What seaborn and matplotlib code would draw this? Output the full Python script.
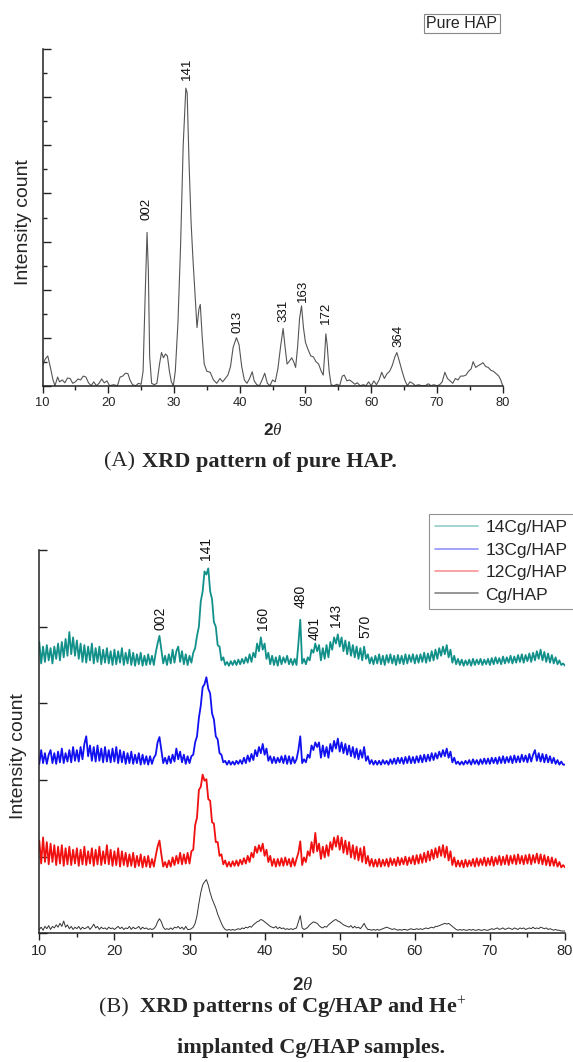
import numpy as np
import pandas as pd
import matplotlib
matplotlib.use("Agg")
import matplotlib.pyplot as plt
from matplotlib.lines import Line2D
from matplotlib.ticker import MultipleLocator
import seaborn as sns

# ---------------- data: panel A (pure HAP) ----------------
hap_2theta = [10.0, 10.4, 10.8, 11.2, 11.6, 11.9, 12.3, 12.6, 13.0, 13.4, 13.8, 14.2, 14.6, 15.0, 15.4,
              15.8, 16.2, 16.6, 17.0, 17.4, 17.8, 18.2, 18.6, 19.0, 19.4, 19.8, 20.2, 20.8, 21.4, 21.8,
              22.2, 22.6, 23.0, 23.3, 23.7, 24.2, 24.6, 25.0, 25.3, 25.6, 25.9, 26.1, 26.3, 26.6, 27.0,
              27.4, 27.8, 28.1, 28.4, 28.7, 29.0, 29.3, 29.6, 29.9, 30.2, 30.6, 31.0, 31.4, 31.8, 32.0,
              32.3, 32.6, 32.9, 33.2, 33.5, 33.8, 34.0, 34.3, 34.6, 35.0, 35.5, 36.0, 36.5, 37.0, 37.4,
              37.8, 38.2, 38.6, 39.0, 39.5, 39.9, 40.3, 40.7, 41.1, 41.5, 41.9, 42.2, 42.6, 43.0, 43.4,
              43.8, 44.2, 44.6, 45.0, 45.4, 45.8, 46.2, 46.6, 46.9, 47.2, 47.5, 47.9, 48.2, 48.5, 48.8,
              49.1, 49.4, 49.7, 50.0, 50.4, 50.8, 51.2, 51.6, 52.0, 52.4, 52.7, 52.9, 53.1, 53.3, 53.6,
              53.9, 54.3, 54.8, 55.2, 55.6, 55.9, 56.3, 56.7, 57.1, 57.5, 57.9, 58.3, 58.8, 59.2, 59.6,
              60.0, 60.4, 60.8, 61.2, 61.6, 62.0, 62.4, 62.8, 63.2, 63.6, 63.9, 64.3, 64.7, 65.1, 65.5,
              65.9, 66.3, 66.7, 67.2, 67.7, 68.2, 68.7, 69.1, 69.5, 70.0, 70.4, 70.8, 71.2, 71.6, 72.0,
              72.4, 72.8, 73.2, 73.6, 74.0, 74.4, 74.8, 75.2, 75.5, 75.9, 76.3, 76.7, 77.0, 77.4, 77.8,
              78.2, 78.6, 79.0, 79.4, 79.7, 80.0]
hap_intensity = [0.42, 0.55, 0.62, 0.38, 0.12, 0.0, 0.18, 0.08, 0.12, 0.06, 0.16, 0.15, 0.05, 0.08, 0.14,
                 0.12, 0.2, 0.18, 0.06, 0.0, 0.08, 0.0, 0.05, 0.14, 0.06, 0.1, 0.0, 0.02, 0.0, 0.18,
                 0.2, 0.26, 0.25, 0.12, 0.02, 0.0, 0.05, 0.03, 0.3, 1.8, 3.19, 2.4, 0.6, 0.05, 0.02,
                 0.05, 0.45, 0.69, 0.58, 0.66, 0.62, 0.3, 0.08, 0.0, 0.3, 1.3, 2.9, 5.0, 6.19, 6.1,
                 4.6, 3.4, 2.6, 1.9, 1.21, 1.6, 1.69, 1.0, 0.45, 0.3, 0.28, 0.12, 0.05, 0.15, 0.08,
                 0.15, 0.22, 0.4, 0.8, 1.0, 0.85, 0.4, 0.12, 0.05, 0.15, 0.29, 0.1, 0.02, 0.0, 0.12,
                 0.26, 0.05, 0.0, 0.12, 0.08, 0.35, 0.8, 1.19, 0.8, 0.45, 0.5, 0.58, 0.5, 0.38, 0.8,
                 1.4, 1.66, 1.2, 0.9, 0.75, 0.62, 0.6, 0.5, 0.45, 0.3, 0.22, 0.6, 1.08, 0.85, 0.3,
                 0.02, 0.0, 0.03, 0.0, 0.2, 0.22, 0.1, 0.12, 0.08, 0.03, 0.06, 0.0, 0.02, 0.0, 0.08,
                 0.0, 0.1, 0.02, 0.12, 0.28, 0.15, 0.25, 0.3, 0.42, 0.6, 0.69, 0.5, 0.3, 0.12, 0.0,
                 0.08, 0.05, 0.0, 0.02, 0.0, 0.0, 0.04, 0.0, 0.02, 0.0, 0.02, 0.08, 0.28, 0.15, 0.1,
                 0.05, 0.15, 0.12, 0.2, 0.2, 0.22, 0.3, 0.35, 0.5, 0.38, 0.42, 0.45, 0.48, 0.4, 0.38,
                 0.32, 0.3, 0.25, 0.2, 0.12, 0.0]
hap_peaks = ["141", "002", "013", "331", "163", "172", "364"]
hap_peak_pos = [32.0, 25.8, 39.6, 46.7, 49.6, 53.1, 64.1]
hap_label_height = [6.36, 3.45, 1.1, 1.32, 1.74, 1.28, 0.81]

# ---------------- data: panel B (Cg/HAP and implanted) ----------------
b_2theta = np.linspace(10, 80, 281)   # 0.25 deg sampling grid
teal_14cg = [
    0.32, 0.04, 0.26, 0.06, 0.28, 0.08, 0.24, 0.04, 0.26, 0.1, 0.3, 0.08, 0.32, 0.12, 0.36, 0.14, 0.45, 0.16, 0.38, 0.14,
    0.34, 0.1, 0.3, 0.06, 0.28, 0.05, 0.26, 0.08, 0.3, 0.04, 0.24, 0.06, 0.26, 0.03, 0.22, 0.05, 0.24, 0.04, 0.2, 0.02,
    0.22, 0.03, 0.2, 0.05, 0.24, 0.02, 0.18, 0.04, 0.22, 0.02, 0.18, 0.01, 0.16, 0.03, 0.18, 0.01, 0.14, 0.02, 0.16, 0.03,
    0.14, 0.02, 0.18, 0.3, 0.4, 0.22, 0.04, 0.14, 0.02, 0.16, 0.04, 0.22, 0.05, 0.2, 0.26, 0.06, 0.2, 0.03, 0.16, 0.02,
    0.14, 0.05, 0.18, 0.24, 0.4, 0.52, 0.85, 0.98, 1.24, 1.2, 1.28, 0.98, 0.88, 0.58, 0.52, 0.28, 0.26, 0.08, 0.12, 0.02,
    0.06, 0.01, 0.07, 0.02, 0.08, 0.02, 0.09, 0.03, 0.1, 0.04, 0.12, 0.05, 0.16, 0.06, 0.18, 0.12, 0.3, 0.2, 0.38, 0.22,
    0.3, 0.1, 0.18, 0.03, 0.14, 0.02, 0.12, 0.01, 0.14, 0.03, 0.12, 0.05, 0.14, 0.03, 0.1, 0.02, 0.1, 0.02, 0.3, 0.61,
    0.04, 0.1, 0.03, 0.12, 0.08, 0.22, 0.18, 0.3, 0.2, 0.28, 0.08, 0.24, 0.1, 0.28, 0.12, 0.32, 0.22, 0.38, 0.3, 0.42,
    0.26, 0.38, 0.2, 0.34, 0.16, 0.32, 0.14, 0.28, 0.12, 0.26, 0.1, 0.24, 0.08, 0.26, 0.1, 0.16, 0.04, 0.12, 0.03, 0.14,
    0.04, 0.16, 0.03, 0.14, 0.02, 0.15, 0.05, 0.16, 0.04, 0.14, 0.02, 0.15, 0.04, 0.14, 0.03, 0.16, 0.04, 0.15, 0.06, 0.16,
    0.04, 0.15, 0.05, 0.16, 0.06, 0.18, 0.05, 0.17, 0.07, 0.2, 0.08, 0.22, 0.1, 0.24, 0.14, 0.26, 0.16, 0.28, 0.12, 0.22,
    0.05, 0.14, 0.03, 0.1, 0.02, 0.09, 0.01, 0.08, 0.02, 0.09, 0.01, 0.1, 0.02, 0.09, 0.03, 0.1, 0.02, 0.09, 0.03, 0.1,
    0.02, 0.11, 0.03, 0.12, 0.04, 0.11, 0.03, 0.13, 0.04, 0.12, 0.05, 0.14, 0.04, 0.13, 0.05, 0.15, 0.06, 0.16, 0.05, 0.15,
    0.07, 0.17, 0.06, 0.18, 0.08, 0.2, 0.1, 0.22, 0.08, 0.19, 0.06, 0.17, 0.05, 0.15, 0.04, 0.12, 0.03, 0.08, 0.02, 0.04,
    0.01]
blue_13cg = [
    0.02, 0.2, 0.03, 0.16, 0.02, 0.14, 0.2, 0.03, 0.16, 0.02, 0.18, 0.04, 0.22, 0.03, 0.16, 0.05, 0.2, 0.04, 0.24, 0.06,
    0.2, 0.05, 0.24, 0.08, 0.28, 0.38, 0.12, 0.26, 0.06, 0.24, 0.05, 0.26, 0.06, 0.22, 0.04, 0.24, 0.05, 0.2, 0.04, 0.22,
    0.05, 0.24, 0.03, 0.2, 0.04, 0.18, 0.02, 0.16, 0.03, 0.18, 0.02, 0.14, 0.03, 0.16, 0.01, 0.14, 0.02, 0.12, 0.01, 0.12,
    0.02, 0.1, 0.14, 0.3, 0.37, 0.2, 0.03, 0.1, 0.02, 0.12, 0.03, 0.14, 0.05, 0.22, 0.08, 0.18, 0.04, 0.14, 0.02, 0.12,
    0.03, 0.12, 0.14, 0.3, 0.38, 0.62, 0.78, 1.02, 1.06, 1.15, 1.0, 0.94, 0.68, 0.6, 0.38, 0.34, 0.16, 0.14, 0.04, 0.06,
    0.01, 0.06, 0.01, 0.05, 0.01, 0.06, 0.02, 0.07, 0.02, 0.1, 0.03, 0.13, 0.05, 0.15, 0.07, 0.2, 0.12, 0.24, 0.16, 0.28,
    0.14, 0.22, 0.06, 0.12, 0.03, 0.11, 0.03, 0.1, 0.04, 0.12, 0.03, 0.13, 0.02, 0.12, 0.02, 0.11, 0.03, 0.08, 0.2, 0.38,
    0.03, 0.08, 0.04, 0.14, 0.1, 0.26, 0.2, 0.3, 0.24, 0.3, 0.1, 0.26, 0.12, 0.24, 0.1, 0.28, 0.18, 0.32, 0.22, 0.35,
    0.18, 0.3, 0.16, 0.28, 0.14, 0.26, 0.12, 0.24, 0.1, 0.22, 0.08, 0.2, 0.1, 0.24, 0.06, 0.12, 0.02, 0.07, 0.01, 0.06,
    0.01, 0.06, 0.01, 0.07, 0.02, 0.06, 0.01, 0.08, 0.02, 0.09, 0.02, 0.1, 0.03, 0.1, 0.02, 0.11, 0.03, 0.12, 0.03, 0.11,
    0.03, 0.12, 0.04, 0.13, 0.04, 0.14, 0.05, 0.14, 0.06, 0.16, 0.07, 0.16, 0.09, 0.18, 0.11, 0.2, 0.12, 0.22, 0.1, 0.18,
    0.04, 0.1, 0.02, 0.05, 0.01, 0.05, 0.01, 0.06, 0.02, 0.07, 0.01, 0.08, 0.02, 0.07, 0.01, 0.08, 0.02, 0.09, 0.02, 0.09,
    0.02, 0.1, 0.03, 0.1, 0.02, 0.11, 0.03, 0.12, 0.03, 0.11, 0.04, 0.12, 0.03, 0.13, 0.04, 0.12, 0.04, 0.14, 0.05, 0.13,
    0.04, 0.15, 0.05, 0.14, 0.2, 0.06, 0.16, 0.05, 0.15, 0.04, 0.14, 0.04, 0.12, 0.03, 0.1, 0.02, 0.07, 0.01, 0.05, 0.01,
    0.01]
red_12cg = [
    0.36, 0.06, 0.4, 0.08, 0.34, 0.05, 0.32, 0.08, 0.3, 0.04, 0.28, 0.06, 0.3, 0.03, 0.26, 0.05, 0.28, 0.04, 0.24, 0.06,
    0.26, 0.03, 0.24, 0.05, 0.28, 0.04, 0.22, 0.06, 0.26, 0.03, 0.24, 0.05, 0.28, 0.04, 0.22, 0.06, 0.3, 0.05, 0.24, 0.03,
    0.22, 0.04, 0.26, 0.02, 0.22, 0.04, 0.2, 0.02, 0.18, 0.03, 0.2, 0.01, 0.16, 0.03, 0.18, 0.01, 0.15, 0.02, 0.16, 0.01,
    0.12, 0.02, 0.16, 0.28, 0.36, 0.18, 0.02, 0.08, 0.01, 0.1, 0.02, 0.14, 0.04, 0.16, 0.06, 0.2, 0.05, 0.18, 0.06, 0.2,
    0.06, 0.22, 0.24, 0.56, 0.66, 1.02, 1.06, 1.22, 1.14, 1.16, 0.9, 0.88, 0.6, 0.58, 0.34, 0.34, 0.16, 0.18, 0.05, 0.1,
    0.02, 0.08, 0.02, 0.09, 0.03, 0.1, 0.03, 0.11, 0.05, 0.13, 0.06, 0.16, 0.08, 0.2, 0.14, 0.28, 0.2, 0.3, 0.22, 0.32,
    0.16, 0.24, 0.08, 0.16, 0.03, 0.12, 0.02, 0.12, 0.03, 0.13, 0.03, 0.14, 0.04, 0.12, 0.02, 0.13, 0.03, 0.12, 0.2, 0.35,
    0.04, 0.14, 0.08, 0.22, 0.16, 0.34, 0.2, 0.46, 0.22, 0.32, 0.12, 0.28, 0.14, 0.3, 0.16, 0.34, 0.24, 0.4, 0.28, 0.42,
    0.24, 0.4, 0.2, 0.36, 0.18, 0.34, 0.14, 0.3, 0.12, 0.28, 0.1, 0.26, 0.08, 0.28, 0.06, 0.16, 0.03, 0.12, 0.02, 0.11,
    0.02, 0.12, 0.02, 0.11, 0.03, 0.12, 0.02, 0.13, 0.04, 0.12, 0.03, 0.14, 0.04, 0.13, 0.05, 0.15, 0.04, 0.14, 0.06, 0.16,
    0.05, 0.17, 0.06, 0.18, 0.07, 0.2, 0.08, 0.22, 0.1, 0.24, 0.12, 0.26, 0.14, 0.28, 0.16, 0.3, 0.14, 0.28, 0.1, 0.22,
    0.04, 0.14, 0.02, 0.1, 0.02, 0.1, 0.01, 0.11, 0.02, 0.1, 0.03, 0.12, 0.02, 0.13, 0.03, 0.12, 0.04, 0.14, 0.03, 0.13,
    0.04, 0.15, 0.03, 0.14, 0.05, 0.16, 0.04, 0.15, 0.05, 0.17, 0.04, 0.16, 0.06, 0.17, 0.05, 0.18, 0.06, 0.16, 0.05, 0.17,
    0.06, 0.18, 0.05, 0.17, 0.07, 0.19, 0.06, 0.18, 0.05, 0.17, 0.04, 0.15, 0.03, 0.14, 0.03, 0.12, 0.02, 0.08, 0.01, 0.04,
    0.01]
black_cg = [
    0.02, 0.05, 0.01, 0.06, 0.03, 0.07, 0.02, 0.06, 0.04, 0.08, 0.05, 0.1, 0.06, 0.13, 0.05, 0.08, 0.03, 0.06, 0.02, 0.05,
    0.03, 0.06, 0.02, 0.05, 0.03, 0.04, 0.06, 0.02, 0.05, 0.09, 0.04, 0.06, 0.02, 0.05, 0.03, 0.04, 0.02, 0.05, 0.03, 0.04,
    0.02, 0.04, 0.06, 0.03, 0.05, 0.02, 0.04, 0.03, 0.06, 0.02, 0.05, 0.03, 0.04, 0.06, 0.02, 0.05, 0.03, 0.04, 0.02, 0.03,
    0.02, 0.03, 0.06, 0.12, 0.16, 0.12, 0.05, 0.02, 0.03, 0.02, 0.04, 0.02, 0.05, 0.04, 0.06, 0.03, 0.05, 0.02, 0.06, 0.02,
    0.02, 0.03, 0.05, 0.1, 0.2, 0.36, 0.5, 0.6, 0.64, 0.67, 0.6, 0.5, 0.42, 0.36, 0.3, 0.22, 0.16, 0.1, 0.05, 0.02,
    0.01, 0.02, 0.01, 0.02, 0.01, 0.02, 0.03, 0.02, 0.04, 0.03, 0.05, 0.04, 0.06, 0.05, 0.08, 0.1, 0.12, 0.13, 0.15, 0.14,
    0.12, 0.1, 0.08, 0.06, 0.05, 0.04, 0.06, 0.03, 0.05, 0.03, 0.04, 0.02, 0.03, 0.02, 0.03, 0.02, 0.03, 0.04, 0.12, 0.2,
    0.04, 0.02, 0.03, 0.05, 0.08, 0.1, 0.12, 0.11, 0.1, 0.07, 0.05, 0.04, 0.06, 0.05, 0.08, 0.1, 0.12, 0.14, 0.15, 0.13,
    0.12, 0.1, 0.08, 0.07, 0.06, 0.05, 0.07, 0.04, 0.06, 0.04, 0.05, 0.03, 0.06, 0.1, 0.05, 0.02, 0.02, 0.01, 0.02, 0.01,
    0.02, 0.01, 0.02, 0.03, 0.04, 0.05, 0.04, 0.03, 0.02, 0.03, 0.02, 0.01, 0.02, 0.01, 0.02, 0.02, 0.01, 0.02, 0.03, 0.02,
    0.02, 0.03, 0.02, 0.03, 0.02, 0.03, 0.04, 0.03, 0.04, 0.05, 0.04, 0.06, 0.06, 0.07, 0.08, 0.09, 0.1, 0.09, 0.1, 0.08,
    0.06, 0.04, 0.02, 0.01, 0.02, 0.01, 0.02, 0.01, 0.01, 0.02, 0.01, 0.02, 0.01, 0.01, 0.02, 0.01, 0.01, 0.02, 0.01, 0.01,
    0.02, 0.03, 0.02, 0.03, 0.04, 0.02, 0.03, 0.04, 0.02, 0.03, 0.04, 0.03, 0.02, 0.04, 0.03, 0.02, 0.04, 0.03, 0.04, 0.02,
    0.03, 0.04, 0.03, 0.05, 0.03, 0.04, 0.03, 0.05, 0.04, 0.03, 0.04, 0.02, 0.03, 0.02, 0.01, 0.02, 0.01, 0.01, 0.0, 0.0,
    0.0]
b_samples = ["14Cg/HAP", "13Cg/HAP", "12Cg/HAP", "Cg/HAP"]
b_offsets = [3.48, 2.19, 0.85, 0.03]          # vertical stacking of the patterns
b_colors = ["#12908a", "#1010f0", "#f01010", "#333333"]
b_peaks = ["141", "002", "160", "480", "401", "143", "570"]
b_peak_pos = [32.2, 26.2, 39.8, 44.8, 46.7, 49.5, 53.4]
b_label_height = [4.87, 3.96, 3.96, 4.24, 3.82, 4.0, 3.85]

# ---------------- styling ----------------
sns.set_theme(style="white")
plt.rcParams["font.family"] = ["Liberation Sans", "DejaVu Sans"]
plt.rcParams["mathtext.fontset"] = "custom"
plt.rcParams["mathtext.bf"] = "Liberation Sans:bold"
plt.rcParams["mathtext.it"] = "Liberation Serif:italic"
plt.rcParams["mathtext.rm"] = "Liberation Serif"

W, H = 573, 1062
fig = plt.figure(figsize=(W / 100, H / 100), dpi=100)
fig.patch.set_facecolor("white")

def px_axes(left, right, top, bottom):
    return [left / W, 1 - bottom / H, (right - left) / W, (bottom - top) / H]

ax1 = fig.add_axes(px_axes(42.5, 502.7, 49.3, 385.7))
ax2 = fig.add_axes(px_axes(39.3, 565.0, 550.0, 933.3))

# ---- panel A ----
sns.lineplot(x=hap_2theta, y=hap_intensity, ax=ax1, color="#555555", lw=0.8,
             sort=False, estimator=None)
ax1.set_xlim(10, 80)
ax1.set_ylim(0, 7)
for lab, xp, yp in zip(hap_peaks, hap_peak_pos, hap_label_height):
    ax1.text(xp, yp, lab, rotation=90, ha="center", va="bottom", fontsize=9.5, color="#111111")

# ---- panel B ----
frames = []
for name, off, vals in zip(b_samples, b_offsets, [teal_14cg, blue_13cg, red_12cg, black_cg]):
    frames.append(pd.DataFrame({"two_theta": b_2theta,
                                "intensity": np.asarray(vals) + off,
                                "sample": name}))
dfb = pd.concat(frames[::-1], ignore_index=True)
pal = dict(zip(b_samples, b_colors))
for name in b_samples[::-1]:
    sub = dfb[dfb["sample"] == name]
    sns.lineplot(data=sub, x="two_theta", y="intensity", ax=ax2, color=pal[name],
                 lw=0.7 if name == "Cg/HAP" else 1.3, sort=False, estimator=None, legend=False)
ax2.set_xlim(10, 80)
ax2.set_ylim(0, 5)
for lab, xp, yp in zip(b_peaks, b_peak_pos, b_label_height):
    ax2.text(xp, yp, lab, rotation=90, ha="center", va="bottom", fontsize=10, color="#111111")

# ---- axes cosmetics ----
for ax, fs in [(ax1, 9.3), (ax2, 10.5)]:
    ax.set_facecolor("white")
    for s in ["top", "right"]:
        ax.spines[s].set_visible(False)
    for s in ["left", "bottom"]:
        ax.spines[s].set_color("#222222")
        ax.spines[s].set_linewidth(1.1)
    ax.xaxis.set_major_locator(MultipleLocator(10))
    ax.xaxis.set_minor_locator(MultipleLocator(5))
    ax.tick_params(axis="x", which="major", direction="out", length=5, width=1.0,
                   color="#222222", labelsize=fs, pad=3, bottom=True)
    ax.tick_params(axis="x", which="minor", direction="out", length=3, width=1.0,
                   color="#222222", bottom=True)
    ax.tick_params(axis="y", which="major", direction="in", length=6, width=1.0,
                   color="#222222", labelleft=False, left=True)
    ax.set_xlabel(r"$\mathbf{2}\theta$", fontsize=fs + 3)
    ax.set_ylabel("Intensity count", fontsize=14)

ax1.yaxis.set_major_locator(MultipleLocator(1))
ax1.yaxis.set_minor_locator(MultipleLocator(0.5))
ax1.tick_params(axis="y", which="minor", direction="in", length=3, width=1.0,
                color="#222222", left=True)
ax2.yaxis.set_major_locator(MultipleLocator(1))

# label placement
ax1.xaxis.set_label_coords(0.5, (385.7 - 430) / 336.4)
ax1.xaxis.label.set_va("center")
ax2.xaxis.set_label_coords(0.5, (933.3 - 985) / 383.3)
ax2.xaxis.label.set_va("center")
ax1.yaxis.set_label_coords((23 - 42.5) / 460.2, (385.7 - 222) / 336.4)
ax1.yaxis.label.set_va("center")
ax2.yaxis.set_label_coords((19 - 39.3) / 525.7, (933.3 - 756) / 383.3)
ax2.yaxis.label.set_va("center")

# "Pure HAP" tag
fig.text(462 / W, 1 - 23.5 / H, "Pure HAP", ha="center", va="center", fontsize=11.5,
         bbox=dict(boxstyle="square,pad=0.15", fc="white", ec="#888888", lw=0.8))

# legend panel B
handles = [Line2D([0], [0], color=c, lw=1.2, alpha=0.45 if n != "Cg/HAP" else 0.6)
           for n, c in zip(b_samples, b_colors)]
leg = fig.legend(handles, b_samples, loc="upper left", bbox_to_anchor=(429 / W, 1 - 514 / H),
                 frameon=True, fancybox=False, fontsize=12.5, handlelength=2.5,
                 handletextpad=0.4, labelspacing=0.42, borderpad=0.35, borderaxespad=0)
leg.get_frame().set_edgecolor("#777777")
leg.get_frame().set_linewidth(0.8)

# captions
serif = ["Liberation Serif", "DejaVu Serif"]
cap_fs = 16
fig.text(104 / W, 1 - 462 / H, "(A)", family=serif, fontsize=cap_fs, va="center", ha="left")
fig.text(142.5 / W, 1 - 462 / H, "XRD pattern of pure HAP.", family=serif, fontsize=cap_fs,
         fontweight="bold", va="center", ha="left")
fig.text(99 / W, 1 - 1008 / H, "(B)", family=serif, fontsize=cap_fs, va="center", ha="left")
fig.text(139 / W, 1 - 1008 / H, "XRD patterns of Cg/HAP and He$^{+}$", family=serif,
         fontsize=cap_fs, fontweight="bold", va="center", ha="left")
fig.text(177 / W, 1 - 1048 / H, "implanted Cg/HAP samples.", family=serif, fontsize=cap_fs,
         fontweight="bold", va="center", ha="left")

fig.savefig("out.png", dpi=100, facecolor="white")
